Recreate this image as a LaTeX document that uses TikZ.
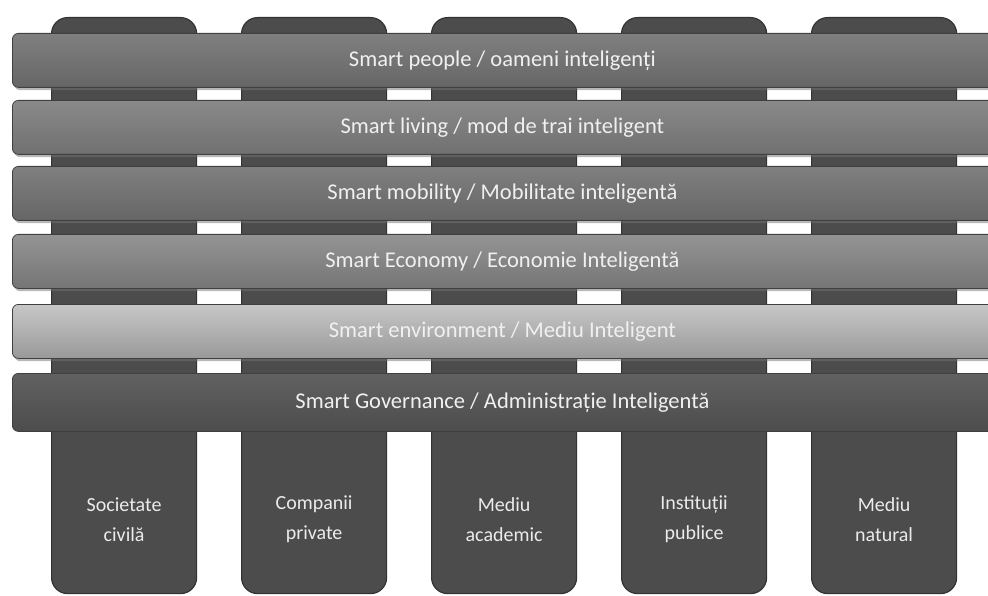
\documentclass[tikz,border=0pt]{standalone}
\usepackage{fontspec}
\setmainfont{Carlito}
\begin{document}
\begin{tikzpicture}[x=1pt,y=-1pt,
  pillar/.style={draw=black!80, line width=1.2pt, fill=black!70,
    rounded corners=16pt, minimum width=145pt, minimum height=576pt,
    inner sep=0pt, anchor=north west},
  pillartext/.style={text=black!8, font=\fontsize{20}{30}\selectfont,
    align=center},
  bar/.style={draw=black!75, line width=0.8pt, rounded corners=6pt,
    minimum width=1000pt, minimum height=54pt, inner sep=0pt,
    anchor=north west, text=black!6, font=\fontsize{22.5}{26}\selectfont},
  barshadow/.style={fill=black!55, rounded corners=6pt,
    minimum width=1000pt, minimum height=54pt, inner sep=0pt,
    anchor=north west, opacity=0.5}
]
\useasboundingbox (0,0) rectangle (988,596);
\clip (0,0) rectangle (988,596);
\fill[white] (0,0) rectangle (988,596);

% five vertical pillars
\foreach \i/\x in {1/51,2/241,3/431,4/621,5/811}
  \node[pillar] (p\i) at (\x,17) {};

% labels at the foot of each pillar
\node[pillartext] (t1) at ([yshift=75pt]p1.south) {Societate\\civilă};
\node[pillartext] (t2) at ([yshift=75pt]p2.south) {Companii\\private};
\node[pillartext] (t3) at ([yshift=75pt]p3.south) {Mediu\\academic};
\node[pillartext] (t4) at ([yshift=75pt]p4.south) {Instituții\\publice};
\node[pillartext] (t5) at ([yshift=75pt]p5.south) {Mediu\\natural};

% soft shadows under the bars
\foreach \j/\y in {1/33,2/100,3/166,4/234,5/304,6/373}
  \node[barshadow] at (14,\y+3) {};

% six horizontal bars woven across the pillars
\node[bar, top color=black!50, bottom color=black!60] (b1) at (12,33)
  {\hspace*{-20pt}Smart people / oameni inteligenți};
\node[bar, top color=black!46, bottom color=black!56] (b2) at (12,100)
  {\hspace*{-20pt}Smart living / mod de trai inteligent};
\node[bar, top color=black!50, bottom color=black!60] (b3) at (12,166)
  {\hspace*{-20pt}Smart mobility / Mobilitate inteligentă};
\node[bar, top color=black!42, bottom color=black!54] (b4) at (12,234)
  {\hspace*{-20pt}Smart Economy / Economie Inteligentă};
\node[bar, top color=black!22, bottom color=black!40] (b5) at (12,304)
  {\hspace*{-20pt}Smart environment / Mediu Inteligent};
\node[bar, top color=black!62, bottom color=black!70, minimum height=58pt] (b6) at (12,373)
  {\hspace*{-20pt}Smart Governance / Administrație Inteligentă};
\end{tikzpicture}
\end{document}
